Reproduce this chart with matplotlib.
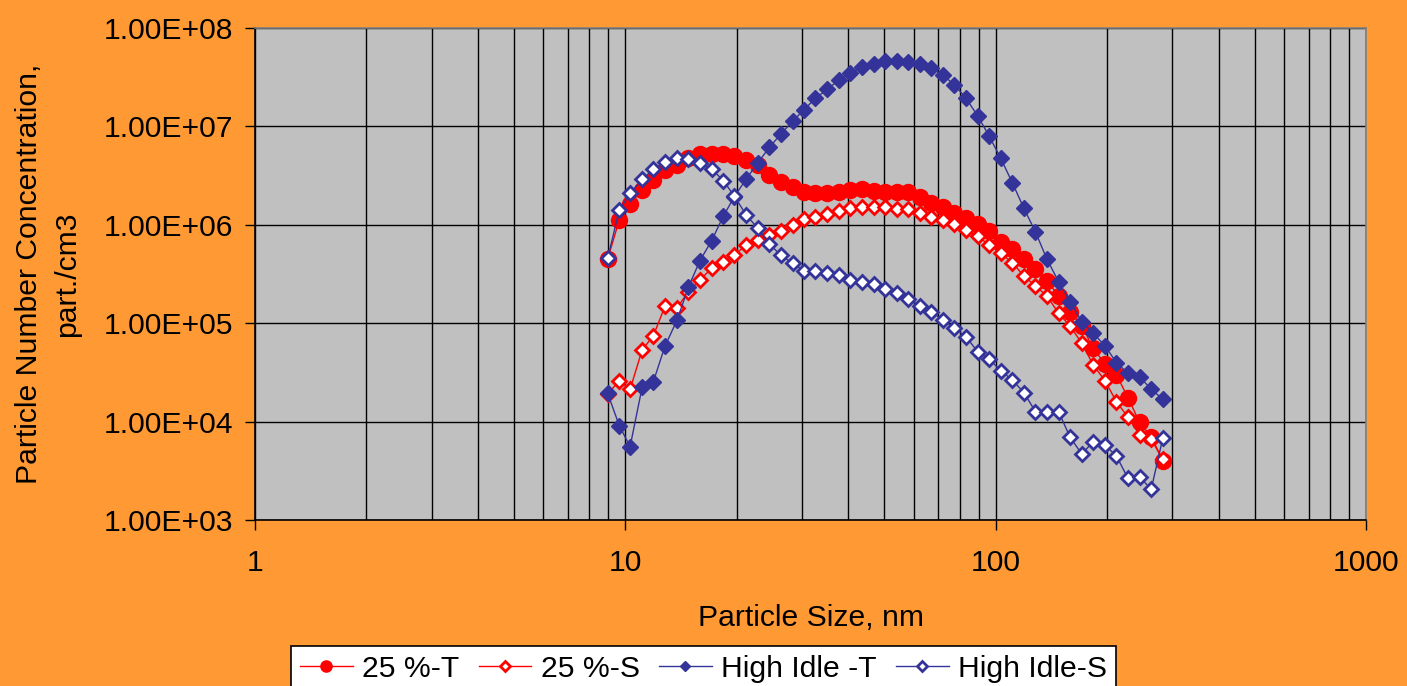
import matplotlib

matplotlib.use("Agg")
import matplotlib.pyplot as plt
from matplotlib.ticker import FixedLocator, FuncFormatter, NullFormatter

# particle size bins, nm
SIZES = [8.96, 9.63, 10.3, 11.1, 11.9, 12.8, 13.8, 14.8, 15.9, 17.1,
         18.4, 19.7, 21.2, 22.8, 24.5, 26.3, 28.3, 30.4, 32.6, 35.1,
         37.7, 40.5, 43.5, 46.8, 50.3, 54.0, 58.1, 62.4, 67.0, 72.0,
         77.4, 83.2, 89.4, 96.0, 103.2, 110.9, 119.2, 128.1, 137.6, 147.9,
         158.9, 170.8, 183.5, 197.2, 211.9, 227.7, 244.7, 263.0, 282.6]

LOAD25_T = [4.5e5, 1.12e6, 1.63e6, 2.26e6, 2.85e6, 3.60e6, 4.05e6, 4.74e6, 5.24e6, 5.3e6,
            5.2e6, 5.0e6, 4.56e6, 4.05e6, 3.21e6, 2.74e6, 2.40e6, 2.17e6, 2.09e6, 2.09e6,
            2.17e6, 2.26e6, 2.29e6, 2.20e6, 2.17e6, 2.17e6, 2.14e6, 1.93e6, 1.65e6, 1.50e6,
            1.32e6, 1.18e6, 1.02e6, 8.7e5, 6.73e5, 5.64e5, 4.46e5, 3.53e5, 2.70e5, 1.89e5,
            1.31e5, 9.37e4, 5.56e4, 3.85e4, 2.98e4, 1.75e4, 9.8e3, 7.03e3, 4.01e3]

LOAD25_S = [1.9e4, 2.61e4, 2.13e4, 5.34e4, 7.46e4, 1.49e5, 1.44e5, 2.09e5, 2.75e5, 3.61e5,
            4.16e5, 4.93e5, 6.23e5, 7.01e5, 7.88e5, 8.65e5, 9.95e5, 1.14e6, 1.19e6, 1.29e6,
            1.39e6, 1.47e6, 1.51e6, 1.53e6, 1.53e6, 1.45e6, 1.45e6, 1.33e6, 1.20e6, 1.13e6,
            1.01e6, 8.89e5, 7.69e5, 6.23e5, 5.13e5, 4.12e5, 3.02e5, 2.39e5, 1.89e5, 1.26e5,
            9.37e4, 6.25e4, 3.76e4, 2.61e4, 1.59e4, 1.11e4, 7.31e3, 6.61e3, 4.14e3]

IDLE_T = [1.94e4, 9.1e3, 5.56e3, 2.23e4, 2.54e4, 5.86e4, 1.08e5, 2.32e5, 4.32e5, 6.89e5,
          1.23e6, 1.93e6, 2.92e6, 4.28e6, 6.13e6, 8.37e6, 1.13e7, 1.48e7, 1.93e7, 2.38e7,
          2.96e7, 3.51e7, 3.99e7, 4.31e7, 4.59e7, 4.65e7, 4.51e7, 4.31e7, 3.89e7, 3.33e7,
          2.64e7, 1.93e7, 1.28e7, 7.99e6, 4.74e6, 2.68e6, 1.47e6, 8.45e5, 4.46e5, 2.64e5,
          1.65e5, 1.04e5, 7.89e4, 5.91e4, 3.97e4, 3.10e4, 2.86e4, 2.13e4, 1.69e4]

IDLE_S = [4.57e5, 1.41e6, 2.09e6, 2.90e6, 3.66e6, 4.35e6, 4.77e6, 4.66e6, 4.28e6, 3.69e6,
          2.81e6, 1.95e6, 1.26e6, 9.2e5, 6.38e5, 4.90e5, 4.06e5, 3.42e5, 3.42e5, 3.26e5,
          3.09e5, 2.75e5, 2.64e5, 2.49e5, 2.23e5, 2.04e5, 1.77e5, 1.50e5, 1.31e5, 1.08e5,
          8.87e4, 7.29e4, 5.13e4, 4.33e4, 3.29e4, 2.65e4, 1.97e4, 1.26e4, 1.24e4, 1.26e4,
          6.92e3, 4.69e3, 6.25e3, 5.78e3, 4.47e3, 2.65e3, 2.75e3, 2.05e3, 6.76e3]

LABELS = ["25 %-T", "25 %-S", "High Idle -T", "High Idle-S"]
X_TICKS = [1, 10, 100, 1000]
Y_TICKS = [1e3, 1e4, 1e5, 1e6, 1e7, 1e8]

RED = "#FF0000"
NAVY = "#333399"
FS = 21.7

plt.rcParams.update({
    "font.family": ["Liberation Sans", "DejaVu Sans"],
    "font.size": FS,
})

fig = plt.figure(figsize=(14.07, 6.86), dpi=100, facecolor="#FF9933")
ax = fig.add_axes([255 / 1407, 1 - 520 / 686, (1366 - 255) / 1407, (520 - 28) / 686])
ax.set_facecolor("#C0C0C0")

ax.plot(SIZES, LOAD25_T, color=RED, lw=1, marker="o", ms=11.5,
        mfc=RED, mec=RED, label=LABELS[0], zorder=3)
ax.plot(SIZES, LOAD25_S, color=RED, lw=1, marker="D", ms=7,
        mfc="white", mec=RED, mew=2, label=LABELS[1], zorder=4)
ax.plot(SIZES, IDLE_T, color=NAVY, lw=1, marker="D", ms=8,
        mfc=NAVY, mec=NAVY, label=LABELS[2], zorder=5)
ax.plot(SIZES, IDLE_S, color=NAVY, lw=1, marker="D", ms=7,
        mfc="white", mec=NAVY, mew=2, label=LABELS[3], zorder=6)

ax.set_xscale("log")
ax.set_yscale("log")
ax.set_xlim(1, 1000)
ax.set_ylim(1e3, 1e8)

ax.xaxis.set_major_locator(FixedLocator(X_TICKS))
ax.xaxis.set_major_formatter(FuncFormatter(lambda v, _: f"{v:g}"))
minors = [m * d for d in (1, 10, 100) for m in range(2, 10)]
ax.xaxis.set_minor_locator(FixedLocator(minors))
ax.xaxis.set_minor_formatter(NullFormatter())
ax.yaxis.set_major_locator(FixedLocator(Y_TICKS))
ax.yaxis.set_major_formatter(FuncFormatter(lambda v, _: f"{v:.2E}"))
ax.yaxis.set_minor_locator(FixedLocator([]))

ax.grid(which="major", axis="both", color="black", lw=1)
ax.grid(which="minor", axis="x", color="black", lw=1)
ax.set_axisbelow(True)
ax.tick_params(which="major", direction="out", length=7, width=1, color="black",
               labelsize=FS)
ax.tick_params(axis="x", pad=14)
ax.tick_params(axis="y", pad=9)
ax.tick_params(which="minor", length=0)
for side, spine in ax.spines.items():
    spine.set_color("black" if side in ("left", "bottom") else "#808080")
    spine.set_linewidth(1.2)

ax.set_xlabel("Particle Size, nm", fontsize=FS, labelpad=19)
ax.set_ylabel("Particle Number Concentration,\npart./cm3", fontsize=FS,
              labelpad=16, linespacing=1.45)

leg = fig.legend(loc="upper center", bbox_to_anchor=(0.5, 1 - 646 / 686),
                 ncol=4, frameon=True, fancybox=False, edgecolor="black",
                 facecolor="white", framealpha=1, fontsize=FS, markerscale=0.7,
                 handlelength=1.75, handletextpad=0.3, columnspacing=0.65,
                 borderpad=0.3, borderaxespad=0)
leg.get_frame().set_linewidth(1.2)

fig.savefig("out.png", dpi=100, facecolor=fig.get_facecolor())
